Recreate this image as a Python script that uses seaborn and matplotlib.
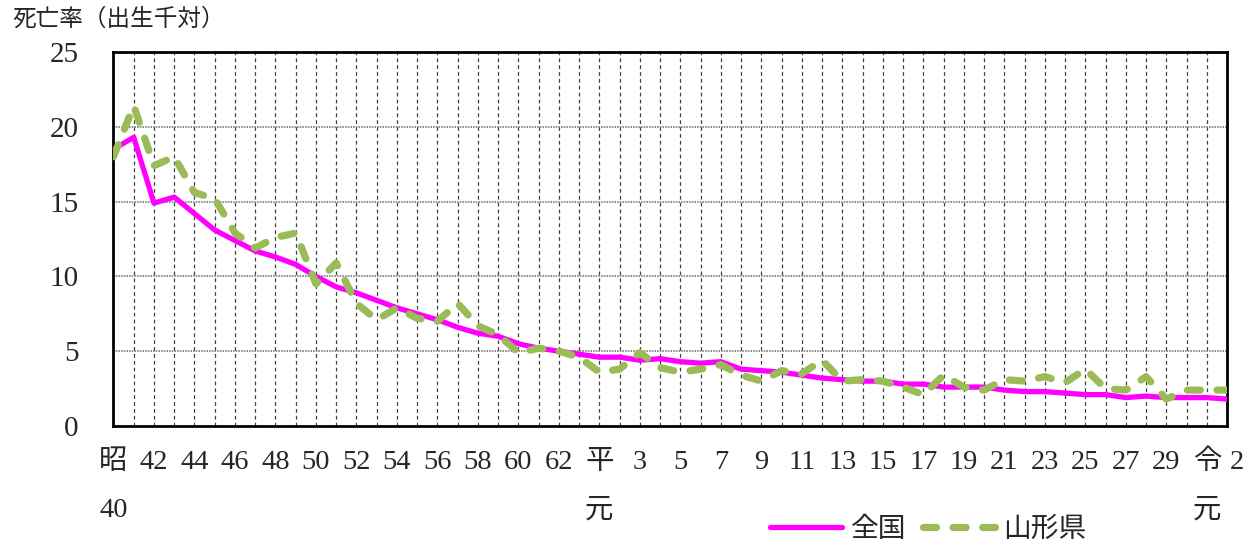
import numpy as np
import pandas as pd
import matplotlib
matplotlib.use("Agg")
import matplotlib.pyplot as plt
import matplotlib.transforms as mtrans
import seaborn as sns

# データ（昭和40年～令和2年）
years = list(range(1965, 2021))
zenkoku = [18.5, 19.3, 14.9, 15.3, 14.2, 13.1, 12.4, 11.7, 11.3, 10.8,
           10.0, 9.3, 8.9, 8.4, 7.9, 7.5, 7.1, 6.6, 6.2, 6.0,
           5.5, 5.2, 5.0, 4.8, 4.6, 4.6, 4.4, 4.5, 4.3, 4.2,
           4.3, 3.8, 3.7, 3.6, 3.4, 3.2, 3.1, 3.0, 3.0, 2.8,
           2.8, 2.6, 2.6, 2.6, 2.4, 2.3, 2.3, 2.2, 2.1, 2.1,
           1.9, 2.0, 1.9, 1.9, 1.9, 1.8]
yamagata = [18.0, 21.4, 17.4, 18.0, 15.6, 15.2, 12.9, 11.9, 12.6, 12.9,
            9.5, 10.9, 8.2, 7.1, 7.9, 7.2, 7.0, 8.2, 6.7, 6.1,
            4.9, 5.2, 5.0, 4.6, 3.6, 3.8, 4.9, 3.9, 3.6, 3.8,
            4.1, 3.4, 3.0, 3.7, 3.5, 4.4, 3.0, 3.1, 3.0, 2.6,
            2.1, 3.4, 2.6, 2.4, 3.1, 3.0, 3.3, 2.9, 3.8, 2.5,
            2.4, 3.3, 1.8, 2.4, 2.4, 2.4]
tick_labels = ["昭\n40", "", "42", "", "44", "", "46", "", "48", "", "50", "", "52", "",
               "54", "", "56", "", "58", "", "60", "", "62", "", "平\n元", "", "3", "",
               "5", "", "7", "", "9", "", "11", "", "13", "", "15", "", "17", "", "19", "",
               "21", "", "23", "", "25", "", "27", "", "29", "", "令\n元", "2"]
y_ticks = [0, 5, 10, 15, 20, 25]

df = pd.DataFrame({"idx": np.arange(len(years)), "全国": zenkoku, "山形県": yamagata})

sns.set_style("white")
plt.rcParams['font.family'] = ['Liberation Serif', 'Noto Sans CJK JP']
plt.rcParams['axes.unicode_minus'] = False

fig = plt.figure(figsize=(12.58, 5.44), dpi=100)
ax = fig.add_axes([0.0902, 0.2169, 0.8852, 0.6875])

# グリッド
for i in range(1, len(years) - 1):
    ax.axvline(i, color='#404040', linestyle=(0, (3, 2.5)), linewidth=0.9, zorder=1)
for v in y_ticks[1:-1]:
    ax.axhline(v, color='#808080', linestyle=(0, (1, 0.6)), linewidth=1.2, zorder=1)

sns.lineplot(data=df, x="idx", y="全国", color='#FF00FF', linewidth=3.8,
             label="全国", ax=ax, zorder=3)
sns.lineplot(data=df, x="idx", y="山形県", color='#9BBB59', linewidth=5.2,
             linestyle=(0, (1.8, 2.3)), dash_capstyle='round',
             label="山形県", ax=ax, zorder=4)

ax.set_xlim(0, len(years) - 1)
ax.set_ylim(0, 25)
ax.set_xticks(np.arange(len(years)))
ax.set_xticklabels(tick_labels, fontsize=20.5, linespacing=2.25)
ax.set_yticks(y_ticks)
ax.set_yticklabels([str(v) for v in y_ticks], fontsize=21)
ax.tick_params(axis='x', direction='in', length=7, width=1, pad=17)
ax.tick_params(axis='y', direction='in', length=0, pad=25)
# 令和2 のラベルを少し右へ
lab = ax.get_xticklabels()[-1]
lab.set_transform(lab.get_transform() + mtrans.ScaledTranslation(10 / 100, 0, fig.dpi_scale_trans))

ax.set_xlabel("")
ax.set_ylabel("")
for s in ax.spines.values():
    s.set_color('black')
    s.set_linewidth(2)

fig.text(12 / 1258, 1 - 20 / 544, "死亡率（出生千対）", fontsize=17, va='center', ha='left')

handles, labels = ax.get_legend_handles_labels()
ax.get_legend().remove()
fig.legend(handles, labels, loc='center', bbox_to_anchor=(0.738, 0.025), ncol=2,
           frameon=False, fontsize=20, handlelength=2.6, handletextpad=0.3,
           columnspacing=0.6)

fig.savefig("out.png", dpi=100)
